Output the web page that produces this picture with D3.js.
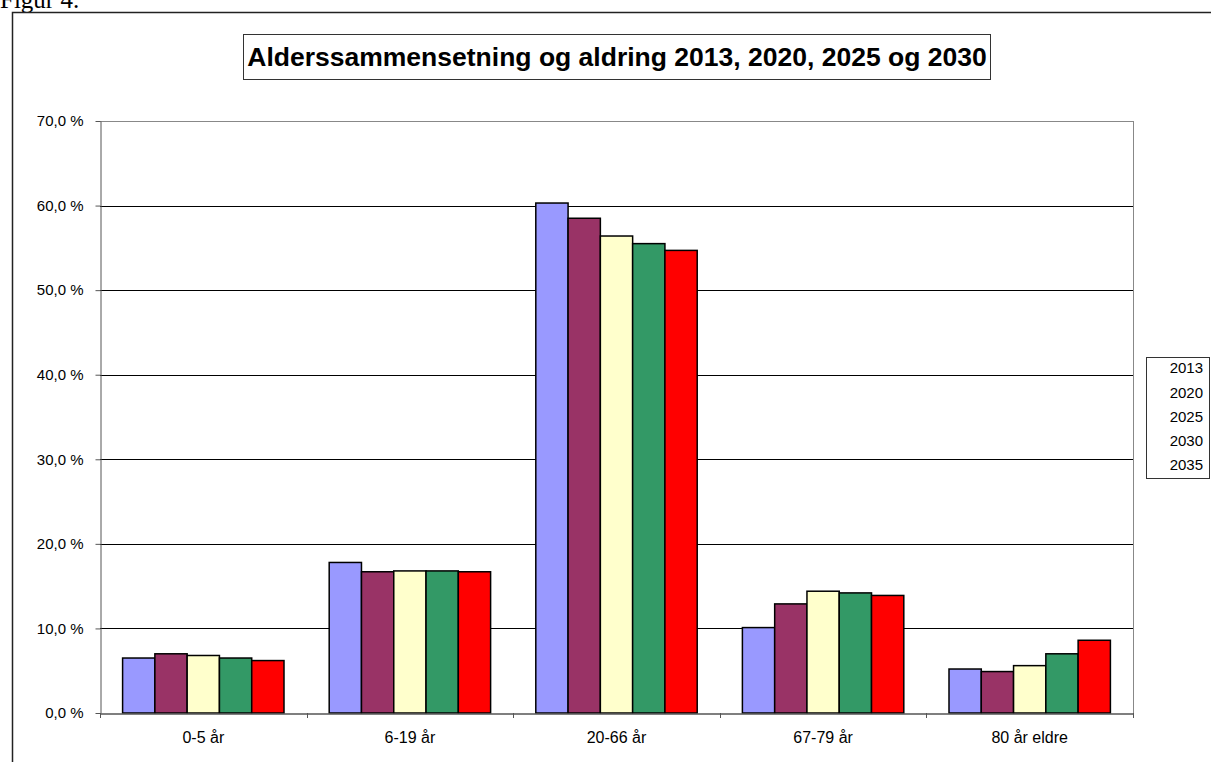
<!DOCTYPE html>
<html>
<head>
<meta charset="utf-8">
<script src="https://cdn.jsdelivr.net/npm/d3@7"></script>
<style>
  body { margin: 0; background: #fff; }
  svg { display: block; }
</style>
</head>
<body>
<div id="chart"></div>
<script>
// data
const categories = ["0-5 år", "6-19 år", "20-66 år", "67-79 år", "80 år eldre"];
const years = ["2013", "2020", "2025", "2030", "2035"];
const v2013 = [6.5, 17.8, 60.3, 10.1, 5.2];
const v2020 = [7.0, 16.7, 58.5, 12.9, 4.9];
const v2025 = [6.8, 16.8, 56.4, 14.4, 5.6];
const v2030 = [6.5, 16.8, 55.5, 14.2, 7.0];
const v2035 = [6.2, 16.7, 54.7, 13.9, 8.6];
const yTicks = [0, 10, 20, 30, 40, 50, 60, 70];
const colors = ["#9999FF", "#993366", "#FFFFCC", "#339966", "#FF0000"];

const width = 1211, height = 762;
const margin = {left: 100, right: 1133, top: 121, bottom: 713};

const series = [v2013, v2020, v2025, v2030, v2035];
const data = categories.map((c, i) => ({
  cat: c,
  values: years.map((y, j) => ({year: y, value: series[j][i], color: colors[j]}))
}));

const svg = d3.select("#chart").append("svg")
  .attr("width", width)
  .attr("height", height)
  .style("font-family", "Arial, 'Liberation Sans', sans-serif");

// caption above the frame (cut off at the top, like the original)
svg.append("text")
  .attr("x", 0)
  .attr("y", 8)
  .style("font-family", "'Times New Roman', 'Liberation Serif', serif")
  .style("font-size", "25px")
  .text("Figur 4.");

// outer frame
svg.append("rect")
  .attr("x", 12.5)
  .attr("y", 12.5)
  .attr("width", width + 20)
  .attr("height", height + 20)
  .attr("fill", "none")
  .attr("stroke", "#222")
  .attr("stroke-width", 1.5);

const x = d3.scaleBand()
  .domain(categories)
  .range([margin.left, margin.right]);

const xInner = d3.scaleBand()
  .domain(years)
  .range([0, x.bandwidth()])
  .paddingOuter(0.7)
  .paddingInner(0);

const y = d3.scaleLinear()
  .domain([0, 70])
  .range([margin.bottom, margin.top]);

// gridlines
svg.append("g")
  .selectAll("line")
  .data(yTicks.slice(1))
  .join("line")
    .attr("x1", margin.left)
    .attr("x2", margin.right)
    .attr("y1", d => Math.round(y(d)) + 0.5)
    .attr("y2", d => Math.round(y(d)) + 0.5)
    .attr("stroke", d => d == 70 ? "#888" : "#000")
    .attr("stroke-width", 1);

// right border of plot area
svg.append("line")
  .attr("x1", margin.right + 0.5).attr("x2", margin.right + 0.5)
  .attr("y1", margin.top).attr("y2", margin.bottom)
  .attr("stroke", "#888");

// bars
const groups = svg.append("g")
  .selectAll("g")
  .data(data)
  .join("g")
    .attr("transform", d => `translate(${x(d.cat)},0)`);

groups.selectAll("rect")
  .data(d => d.values)
  .join("rect")
    .attr("x", d => xInner(d.year))
    .attr("y", d => y(d.value))
    .attr("width", xInner.bandwidth())
    .attr("height", d => y(0) - y(d.value))
    .attr("fill", d => d.color)
    .attr("stroke", "#000")
    .attr("stroke-width", 1.5);

// y axis
const yAxis = svg.append("g")
  .attr("transform", `translate(${margin.left + 0.5},0)`)
  .call(d3.axisLeft(y).tickValues(yTicks).tickSize(5).tickSizeOuter(0)
    .tickFormat(d => d3.format(".1f")(d).replace(".", ",") + " %"));
yAxis.select(".domain").attr("stroke", "#555");
yAxis.selectAll(".tick line").attr("stroke", "#555");
yAxis.selectAll("text")
  .attr("x", -17)
  .style("font-family", "Arial, 'Liberation Sans', sans-serif")
  .style("font-size", "15px")
  .attr("fill", "#000");

// x axis
const xAxis = svg.append("g")
  .attr("transform", `translate(0,${margin.bottom + 0.5})`)
  .call(d3.axisBottom(x).tickSize(0));
xAxis.select(".domain").attr("stroke", "#555").attr("stroke-width", 1.5);
xAxis.selectAll("text")
  .attr("y", 18)
  .style("font-family", "Arial, 'Liberation Sans', sans-serif")
  .style("font-size", "16px")
  .attr("fill", "#000");

// category separator ticks
svg.append("g")
  .selectAll("line")
  .data(categories.concat(["end"]))
  .join("line")
    .attr("x1", (d, i) => Math.round(margin.left + i * x.step()) + 0.5)
    .attr("x2", (d, i) => Math.round(margin.left + i * x.step()) + 0.5)
    .attr("y1", margin.bottom)
    .attr("y2", margin.bottom + 5)
    .attr("stroke", "#555");

// title box
svg.append("rect")
  .attr("x", 243.5)
  .attr("y", 34.5)
  .attr("width", 747)
  .attr("height", 45)
  .attr("fill", "#fff")
  .attr("stroke", "#333")
  .attr("stroke-width", 1);

svg.append("text")
  .attr("x", 617)
  .attr("y", 66)
  .attr("text-anchor", "middle")
  .style("font-size", "26.5px")
  .style("font-weight", "bold")
  .text("Alderssammensetning og aldring 2013, 2020, 2025 og 2030");

// legend (text only)
const legend = svg.append("g");
legend.append("rect")
  .attr("x", 1146.5)
  .attr("y", 357.5)
  .attr("width", 63)
  .attr("height", 121)
  .attr("fill", "#fff")
  .attr("stroke", "#333");

legend.selectAll("text")
  .data(years)
  .join("text")
    .attr("x", 1203)
    .attr("y", (d, i) => 368 + i * 24.3)
    .attr("dy", "0.35em")
    .attr("text-anchor", "end")
    .style("font-size", "15px")
    .text(d => d);
</script>
</body>
</html>
